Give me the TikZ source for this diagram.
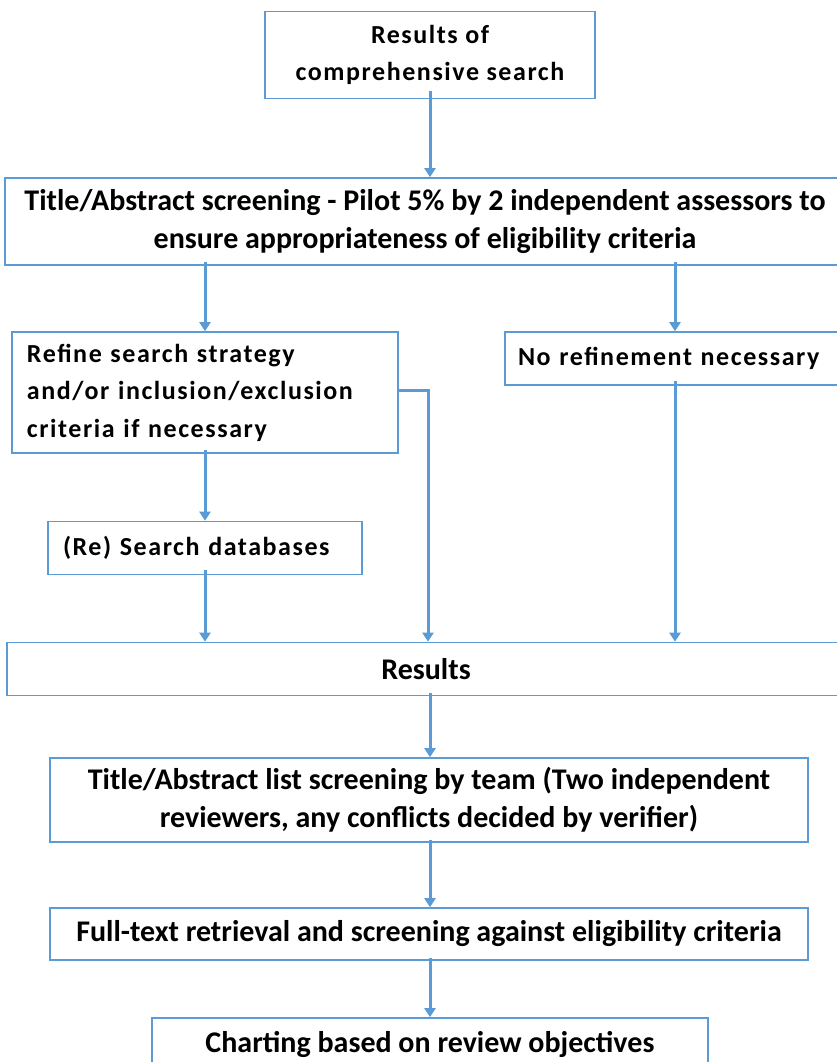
\documentclass[tikz,border=0pt]{standalone}
\usepackage{fontspec}
\setmainfont{Carlito}
\newfontfamily\widefont[LetterSpace=6]{Carlito}
\usepackage{tikz}
\usetikzlibrary{arrows.meta}
\definecolor{office_blue}{RGB}{91,155,213}

\tikzset{
    stepbox/.style={draw=office_blue, line width=1.6, fill=white, inner sep=0,
        font=\widefont\bfseries\fontsize{26}{37.5}\selectfont},
    narrowbox/.style={stepbox, font=\bfseries\fontsize{30}{38}\selectfont},
    flow/.style={draw=office_blue, line width=3,
        -{Triangle[width=11,length=9]}},
}

\begin{document}
\begin{tikzpicture}[x=1pt, y=-1pt]
    \useasboundingbox (0,0) rectangle (837,1062);
    \clip (0,0) rectangle (837,1062);
    % Boxes
    \node[stepbox, minimum width=330, minimum height=87, align=center]
        (search) at (430,55) {Results of\\comprehensive search};
    \node[narrowbox, minimum width=840, minimum height=87, align=center]
        (pilot) at (425,221.5) {Title/Abstract screening - Pilot 5\% by 2 independent assessors to\\ensure appropriateness of eligibility criteria};
    \node[stepbox, minimum width=386, minimum height=121, align=left, text width=356]
        (refine) at (205,392.5) {Refine search strategy\\and/or inclusion/exclusion\\criteria if necessary};
    \node[stepbox, minimum width=340, minimum height=53, align=left, text width=314]
        (norefine) at (675,358.5) {No refinement necessary};
    \node[stepbox, minimum width=314, minimum height=53, align=left, text width=284]
        (research) at (205,548) {(Re) Search databases};
    \node[narrowbox, minimum width=838, minimum height=53]
        (results) at (426,669) {Results};
    \node[narrowbox, minimum width=758, minimum height=84, align=center]
        (listscreen) at (429,800) {Title/Abstract list screening by team (Two independent\\reviewers, any conflicts decided by verifier)};
    \node[narrowbox, minimum width=758, minimum height=52]
        (fulltext) at (429,934) {Full-text retrieval and screening against eligibility criteria};
    \node[narrowbox, minimum width=556, minimum height=52]
        (charting) at (430,1044) {Charting based on review objectives};
    % Connectors
    \draw[flow] ([yshift=8]search.south) -- (pilot.north -| search.south);
    \draw[flow] ([yshift=4]pilot.south -| refine.north) -- (refine.north);
    \draw[flow] ([yshift=4]pilot.south -| norefine.north) -- (norefine.north);
    \draw[flow] ([yshift=4]refine.south) -- (research.north);
    \draw[flow] ([yshift=5]research.south) -- (results.north -| research.south);
    \draw[flow] (refine.east |- 0,390) -- (428,390) -- (results.north -| 428,0);
    \draw[flow] ([yshift=5]norefine.south) -- (results.north -| norefine.south);
    \draw[flow] ([yshift=3]results.south -| 430,0) -- (listscreen.north -| 430,0);
    \draw[flow] ([yshift=3]listscreen.south -| 430,0) -- (fulltext.north -| 430,0);
    \draw[flow] ([yshift=3]fulltext.south -| 430,0) -- (charting.north -| 430,0);
\end{tikzpicture}
\end{document}
